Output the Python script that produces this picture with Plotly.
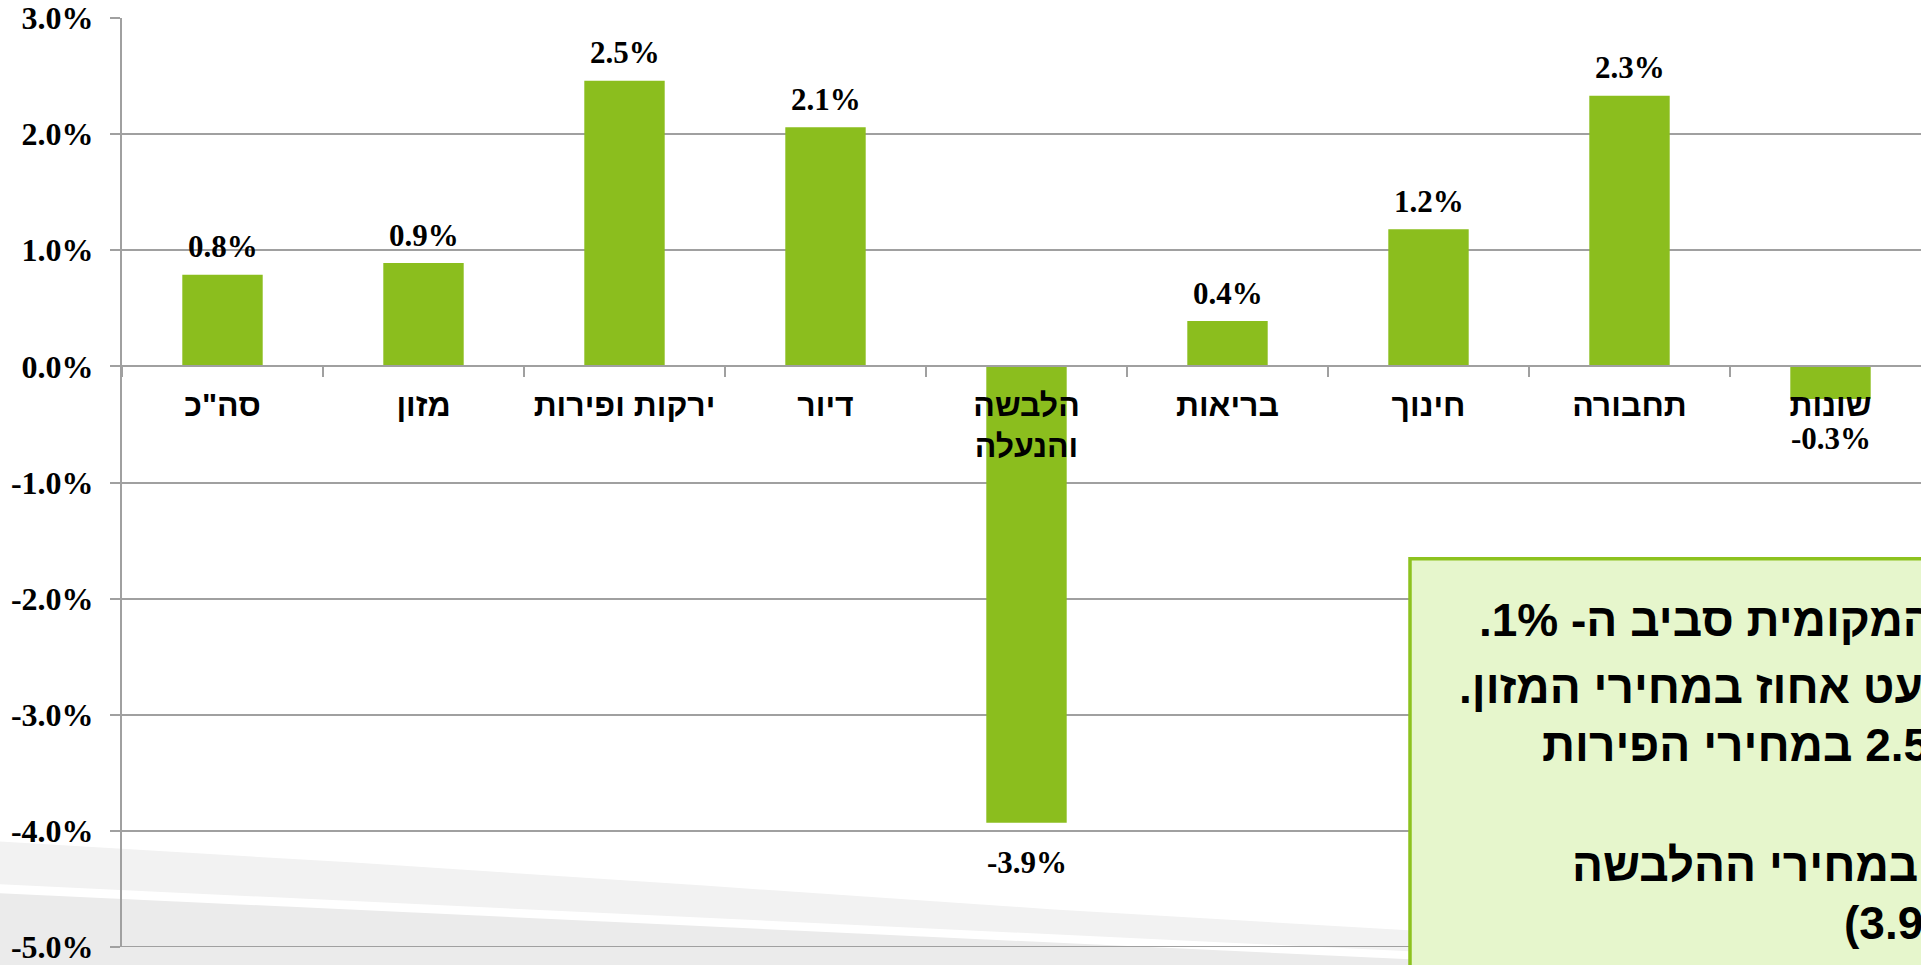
import plotly.graph_objects as go

# ---------------- data ----------------
categories = ['סה"כ', 'מזון', 'ירקות ופירות', 'דיור', 'הלבשה<br>והנעלה',
              'בריאות', 'חינוך', 'תחבורה', 'שונות']
values = [0.79, 0.89, 2.46, 2.06, -3.93, 0.39, 1.18, 2.33, -0.28]

y_tick_vals = [-5, -4, -3, -2, -1, 0, 1, 2, 3]
y_tick_text = ['-5.0%', '-4.0%', '-3.0%', '-2.0%', '-1.0%', '0.0%', '1.0%', '2.0%', '3.0%']

box_lines = [
    '\u200Fהמקומית סביב ה- 1%.\u200F',
    '\u200Fכמעט אחוז במחירי המזון.\u200F',
    '\u200F2.5% במחירי הפירות\u200F',
    '\u200Fבמחירי ההלבשה\u200F',
    '(3.9%)',
]

# ---------------- layout helpers ----------------
W, H = 1921, 965
PL, PR, PT, PB = 122, 1921, 18, 951
GREEN = '#8BBE1E'
GRID = '#A0A0A0'
SERIF = 'Liberation Serif, DejaVu Serif, serif'
SANS = 'Liberation Sans, Arial, DejaVu Sans, sans-serif'


def fx(px):
    return (px - PL) / (PR - PL)


def fy(py):
    return (PB - py) / (PB - PT)


def path(points, close=True):
    s = 'M ' + ' L '.join(f'{fx(x):.5f},{fy(y):.5f}' for x, y in points)
    return s + (' Z' if close else '')


fig = go.Figure()
fig.add_trace(go.Bar(
    x=categories, y=values, width=0.4,
    marker=dict(color=GREEN, line=dict(width=0)),
    hoverinfo='skip'))

# data labels
for c, v in zip(categories, values):
    fig.add_annotation(
        x=c, y=v, xref='x', yref='y', text=f'{v:.1f}%', showarrow=False,
        yanchor='middle', yshift=28 if v > 0 else -40,
        font=dict(family=SERIF, size=31, color='black', weight='bold'))

shapes = []
# background swooshes
shapes.append(dict(type='path', xref='paper', yref='paper', layer='below',
                   path=path([(0, 845), (350, 866), (700, 889), (1050, 913), (1404, 934),
                              (1940, 965), (1940, 990), (0, 990)]),
                   fillcolor='#F2F2F2', line=dict(width=0)))
shapes.append(dict(type='path', xref='paper', yref='paper', layer='below',
                   path=path([(0, 888), (1404, 955), (1940, 981), (1940, 995), (0, 995)]),
                   fillcolor='#FFFFFF', line=dict(width=0)))
shapes.append(dict(type='path', xref='paper', yref='paper', layer='below',
                   path=path([(0, 897), (1404, 963), (1940, 989), (1940, 1000), (0, 1000)]),
                   fillcolor='#EBEBEB', line=dict(width=0)))
# bottom gridline at the range edge
shapes.append(dict(type='line', xref='paper', yref='y', layer='below',
                   x0=0, x1=1, y0=y_tick_vals[0], y1=y_tick_vals[0],
                   line=dict(color=GRID, width=2)))
# text box
shapes.append(dict(type='rect', xref='paper', yref='paper', layer='above',
                   x0=fx(1410), x1=fx(1950), y0=fy(561), y1=fy(1000),
                   fillcolor='#E6F6CC', line=dict(color='#8DC21F', width=3.5)))

box_pos = [(1477, 623), (1457, 690), (1540, 748), (1570, 869), (1842, 927)]
for t, (px, py) in zip(box_lines, box_pos):
    fig.add_annotation(
        x=fx(px), y=fy(py), xref='paper', yref='paper', text=t, showarrow=False,
        xanchor='left', yanchor='middle',
        font=dict(family=SANS, size=46, color='black', weight='bold'))

fig.update_layout(
    width=W, height=H,
    margin=dict(l=PL, r=W - PR, t=PT, b=H - PB, pad=0),
    paper_bgcolor='white', plot_bgcolor='rgba(0,0,0,0)',
    showlegend=False, shapes=shapes,
    xaxis=dict(type='category', range=[-0.5, -0.5 + (PR - PL) / 201.0],
               anchor='free', position=5 / 8,
               showline=True, linecolor=GRID, linewidth=2,
               ticks='outside', tickson='boundaries', ticklen=10,
               tickcolor=GRID, tickwidth=2, showgrid=False,
               tickfont=dict(family=SANS, size=32, color='black', weight='bold'),
               ticklabelstandoff=10),
    yaxis=dict(range=[-5, 3], tickvals=y_tick_vals, ticktext=y_tick_text,
               showgrid=True, gridcolor=GRID, gridwidth=2, zeroline=False,
               showline=True, linecolor=GRID, linewidth=2,
               ticks='outside', ticklen=10, tickcolor=GRID, tickwidth=2,
               tickfont=dict(family=SERIF, size=32, color='black', weight='bold'),
               ticklabelstandoff=10, ticklabeloverflow='allow'),
)

fig.write_html('out.html', config={'displayModeBar': False},
               post_script="document.body.style.margin='0';document.body.style.overflow='hidden';")
